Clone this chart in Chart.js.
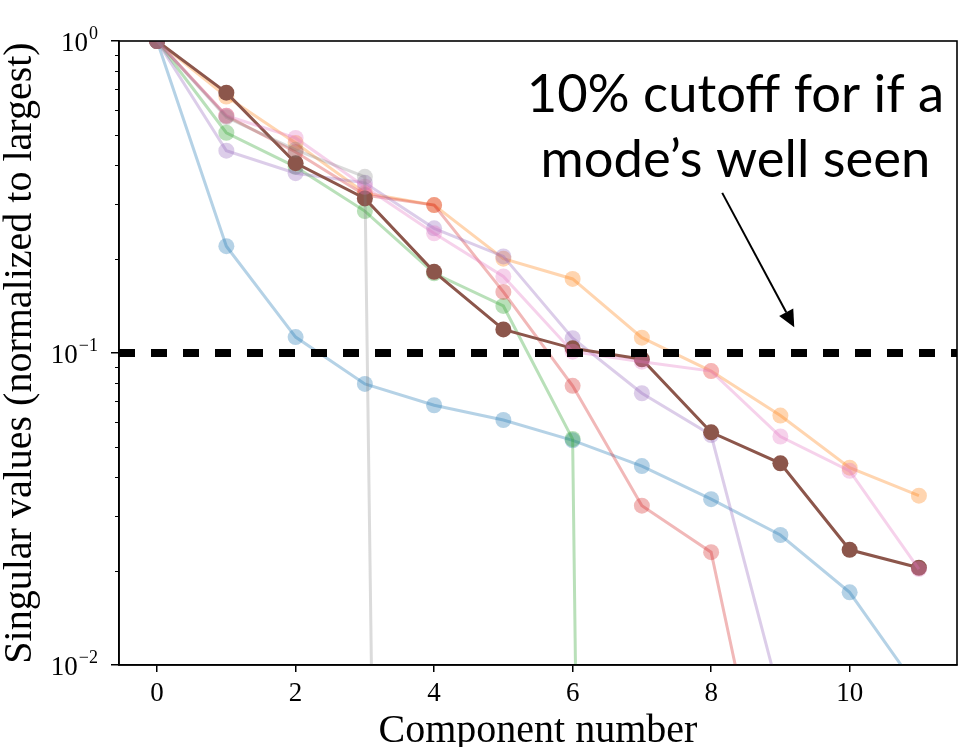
<!DOCTYPE html>
<html>
<head>
<meta charset="utf-8">
<script src="https://cdn.jsdelivr.net/npm/chart.js@4.4.1/dist/chart.umd.min.js"></script>
<style>
  html, body { margin: 0; padding: 0; background: #fff; }
</style>
</head>
<body>
<canvas id="myChart" width="959" height="747"></canvas>
<script>
// component index along the x axis
var components = [0, 1, 2, 3, 4, 5, 6, 7, 8, 9, 10, 11];

// normalized singular values, one list per run (null = not visible)
var blueVals   = [1, 0.220, 0.1125, 0.0796, 0.068, 0.061, 0.0525, 0.0434, 0.034, 0.0261, 0.0171, 0.0083];
var orangeVals = [1, 0.664, 0.471, 0.326, 0.298, 0.2006, 0.1727, 0.112, 0.0875, 0.063, 0.0429, 0.0349];
var greenVals  = [1, 0.508, 0.395, 0.285, 0.180, 0.1415, 0.053, 1e-19, null, null, null, null];
var redVals    = [1, 0.576, 0.441, 0.321, 0.298, 0.157, 0.0785, 0.0324, 0.023, 0.0021, null, null];
var purpleVals = [1, 0.445, 0.377, 0.351, 0.251, 0.204, 0.1115, 0.0743, 0.0546, 0.0078, null, null];
var brownVals  = [1, 0.683, 0.406, 0.313, 0.182, 0.119, 0.1035, 0.0955, 0.0557, 0.0443, 0.0234, 0.0205];
var pinkVals   = [1, 0.576, 0.489, 0.341, 0.242, 0.176, 0.101, 0.0938, 0.0875, 0.054, 0.0419, 0.0203];
var grayVals   = [1, 0.570, 0.448, 0.367, 1e-17, null, null, null, null, null, null, null];

var allSeries = [blueVals, orangeVals, greenVals, redVals, purpleVals, brownVals, pinkVals, grayVals];
var seriesColors = ['#1f77b4', '#ff7f0e', '#2ca02c', '#d62728', '#9467bd', '#8c564b', '#e377c2', '#7f7f7f'];
var seriesAlpha = [0.33, 0.33, 0.33, 0.33, 0.33, 1, 0.33, 0.28];

var cutoff = 0.1;
var xMin = -0.55, xMax = 11.55;
var xTicks = [0, 2, 4, 6, 8, 10];
var yTicks = [0.01, 0.1, 1];
var yTickExps = ['\u22122', '\u22121', '0'];
var yMinorTicks = [0.02, 0.03, 0.04, 0.05, 0.06, 0.07, 0.08, 0.09, 0.2, 0.3, 0.4, 0.5, 0.6, 0.7, 0.8, 0.9];

var noteLines = ['10% cutoff for if a', 'mode\u2019s well seen'];

function rgba(hex, a) {
    var r = parseInt(hex.slice(1, 3), 16);
    var g = parseInt(hex.slice(3, 5), 16);
    var b = parseInt(hex.slice(5, 7), 16);
    return 'rgba(' + r + ',' + g + ',' + b + ',' + a + ')';
}

var datasets = [];
for (var i = 0; i < allSeries.length; i++) {
    var pts = [];
    for (var j = 0; j < components.length; j++) {
        if (allSeries[i][j] !== null) pts.push({ x: components[j], y: allSeries[i][j] });
    }
    var col = rgba(seriesColors[i], seriesAlpha[i]);
    datasets.push({
        data: pts,
        borderColor: col,
        backgroundColor: col,
        pointBackgroundColor: col,
        pointBorderWidth: 0,
        pointRadius: 8,
        borderWidth: 3,
        clip: 0,
        order: allSeries.length - i + 1
    });
}
// the 10% line
datasets.push({
    data: [{ x: xMin, y: cutoff }, { x: xMax, y: cutoff }],
    borderColor: '#000',
    borderWidth: 8,
    borderDash: [16, 16],
    borderCapStyle: 'butt',
    pointRadius: 0,
    clip: 0,
    order: 0
});

var serif = "'Liberation Serif', 'DejaVu Serif', serif";

var extras = {
    id: 'extras',
    afterDraw: function (chart) {
        var ctx = chart.ctx;
        var a = chart.chartArea;
        var x = chart.scales.x, y = chart.scales.y;
        ctx.save();
        // box
        ctx.strokeStyle = '#000';
        ctx.lineWidth = 1.6;
        ctx.strokeRect(a.left, a.top, a.right - a.left, a.bottom - a.top);
        // minor ticks on the log axis
        ctx.lineWidth = 1.2;
        ctx.beginPath();
        yMinorTicks.forEach(function (v) {
            var py = Math.round(y.getPixelForValue(v)) + 0.5;
            ctx.moveTo(a.left - 4, py);
            ctx.lineTo(a.left, py);
        });
        ctx.stroke();
        // log tick labels with raised exponents
        ctx.fillStyle = '#000';
        ctx.textAlign = 'right';
        ctx.textBaseline = 'alphabetic';
        yTicks.forEach(function (v, k) {
            var py = y.getPixelForValue(v);
            var ex = a.left - 21;
            ctx.font = '18px ' + serif;
            ctx.fillText(yTickExps[k], ex, py - 2);
            var w = ctx.measureText(yTickExps[k]).width;
            ctx.font = '27px ' + serif;
            ctx.fillText('10', ex - w - 1, py + 10);
        });
        // annotation
        ctx.font = '52.5px Lato';
        ctx.textAlign = 'center';
        ctx.fillText(noteLines[0], x.getPixelForValue(8.35), y.getPixelForValue(0.592));
        ctx.fillText(noteLines[1], x.getPixelForValue(8.35), y.getPixelForValue(0.366));
        var x0 = x.getPixelForValue(8.16), y0 = y.getPixelForValue(0.326);
        var x1 = x.getPixelForValue(9.2), y1 = y.getPixelForValue(0.121);
        var ang = Math.atan2(y1 - y0, x1 - x0);
        var hl = 17, hw = 8;
        ctx.lineWidth = 2;
        ctx.beginPath();
        ctx.moveTo(x0, y0);
        ctx.lineTo(x1 - hl * Math.cos(ang), y1 - hl * Math.sin(ang));
        ctx.stroke();
        ctx.beginPath();
        ctx.moveTo(x1, y1);
        ctx.lineTo(x1 - hl * Math.cos(ang) + hw * Math.sin(ang), y1 - hl * Math.sin(ang) - hw * Math.cos(ang));
        ctx.lineTo(x1 - hl * Math.cos(ang) - hw * Math.sin(ang), y1 - hl * Math.sin(ang) + hw * Math.cos(ang));
        ctx.closePath();
        ctx.fill();
        ctx.restore();
    }
};

var myChart = new Chart(document.getElementById('myChart').getContext('2d'), {
    type: 'line',
    data: { datasets: datasets },
    plugins: [extras],
    options: {
        responsive: false,
        animation: false,
        devicePixelRatio: 1,
        layout: { autoPadding: false, padding: { top: 41, right: 2, left: 0, bottom: 0 } },
        plugins: { legend: { display: false }, tooltip: { enabled: false } },
        elements: { line: { tension: 0 } },
        scales: {
            x: {
                type: 'linear',
                min: xMin,
                max: xMax,
                afterBuildTicks: function (s) { s.ticks = xTicks.map(function (v) { return { value: v }; }); },
                afterFit: function (s) { s.height = 82; },
                grid: { drawOnChartArea: false, drawTicks: true, tickLength: 7, color: '#000', lineWidth: 1.5 },
                border: { display: true, color: '#000', width: 1.6 },
                ticks: { color: '#000', padding: 6, maxRotation: 0, font: { family: serif, size: 27 } },
                title: {
                    display: true,
                    text: 'Component number',
                    color: '#000',
                    font: { family: serif, size: 40, lineHeight: 1 },
                    padding: { top: 0, bottom: -4 }
                }
            },
            y: {
                type: 'logarithmic',
                min: 0.01,
                max: 1,
                afterBuildTicks: function (s) { s.ticks = yTicks.map(function (v) { return { value: v }; }); },
                afterFit: function (s) { s.width = 119; },
                grid: { drawOnChartArea: false, drawTicks: true, tickLength: 8, color: '#000', lineWidth: 1.5 },
                border: { display: true, color: '#000', width: 1.6 },
                ticks: { color: '#000', padding: 12, callback: function () { return ''; } },
                title: {
                    display: true,
                    text: 'Singular values (normalized to largest)',
                    color: '#000',
                    font: { family: serif, size: 40, lineHeight: 1 },
                    padding: { top: 0, bottom: 0 }
                }
            }
        }
    }
});
</script>
</body>
</html>
